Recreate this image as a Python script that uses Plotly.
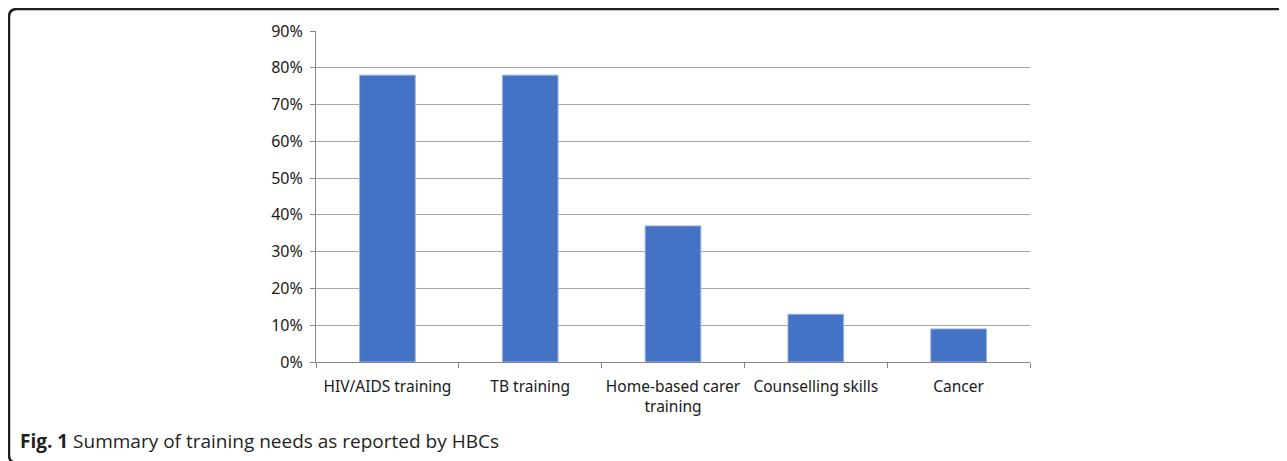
import plotly.graph_objects as go

categories = ["HIV/AIDS training", "TB training", "Home-based carer<br>training",
              "Counselling skills", "Cancer"]
values = [0.78, 0.78, 0.37, 0.13, 0.09]
tick_vals = [0, 0.1, 0.2, 0.3, 0.4, 0.5, 0.6, 0.7, 0.8, 0.9]
tick_text = ["0%", "10%", "20%", "30%", "40%", "50%", "60%", "70%", "80%", "90%"]
caption_bold = "Fig. 1"
caption_text = " Summary of training needs as reported by HBCs"

OFF = 8  # page body margin
W, H = 1287, 461
L, R, T, B = 316 - OFF, 1030 - OFF, 31 - OFF, 362 - OFF

def px(x):
    return (x - OFF - L) / (R - L)

def py(y):
    return (B - (y - OFF)) / (B - T)

fig = go.Figure(go.Bar(
    x=categories, y=values,
    marker=dict(color="#4472C4", line=dict(color="#9DB4E0", width=1)),
    width=0.39,
))

fig.update_layout(
    width=W, height=H,
    margin=dict(l=L, r=W - R, t=T, b=H - B, pad=0, autoexpand=False),
    paper_bgcolor="white", plot_bgcolor="white",
    showlegend=False,
    font=dict(family="Noto Sans, sans-serif", size=16, color="#1a1a1a"),
)
fig.update_yaxes(
    range=[0, 0.9], tickvals=tick_vals, ticktext=tick_text,
    showgrid=True, gridcolor="#A6A6A6", gridwidth=1,
    showline=True, linecolor="#868686", linewidth=1,
    ticks="outside", ticklen=5, tickcolor="#868686",
    zeroline=False, tickfont=dict(size=16), ticklabelstandoff=4,
    automargin=False,
)
fig.update_xaxes(
    showline=True, linecolor="#868686", linewidth=1,
    ticks="outside", ticklen=5, tickcolor="#868686",
    tickson="boundaries", tickfont=dict(size=15.5), ticklabelstandoff=10,
    tickangle=0, automargin=False,
    showgrid=False,
)

x0, y0, r = 9, 9, 8
yb = 463
path = (f"M {px(1300)},{py(y0)} L {px(x0 + r)},{py(y0)} "
        f"Q {px(x0)},{py(y0)} {px(x0)},{py(y0 + r)} "
        f"L {px(x0)},{py(yb - r)} Q {px(x0)},{py(yb)} {px(x0 + r)},{py(yb)} "
        f"L {px(1300)},{py(yb)}")
fig.add_shape(type="path", path=path, xref="paper", yref="paper",
              line=dict(color="#231F20", width=2.5))

fig.add_annotation(
    x=px(18), y=py(441), xref="paper", yref="paper",
    xanchor="left", yanchor="middle", showarrow=False,
    text=f"<b>{caption_bold}</b>{caption_text}",
    font=dict(family="Open Sans, Noto Sans, sans-serif", size=19, color="#231F20"),
)

fig.write_html("out.html")
